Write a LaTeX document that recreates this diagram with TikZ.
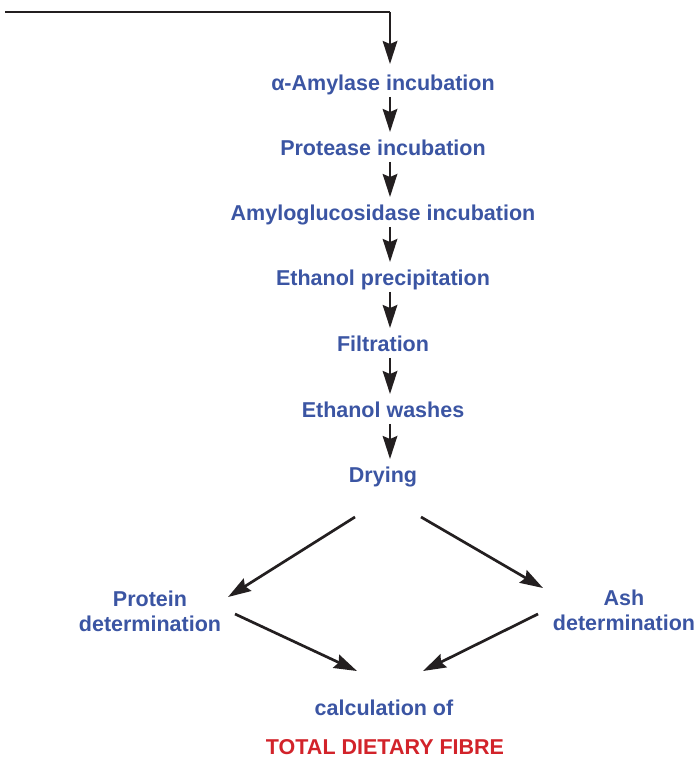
\documentclass[tikz,border=0pt]{standalone}
\usepackage{fontspec}
\setmainfont{Liberation Sans}
\usetikzlibrary{arrows.meta}

\definecolor{stageblue}{RGB}{59,85,163}
\definecolor{fibrered}{RGB}{210,35,42}
\definecolor{inkblack}{RGB}{35,31,32}

\tikzset{
  stage/.style={text=stageblue, font=\fontsize{21.5}{25}\selectfont\bfseries, inner sep=0pt, text height=15.5pt, text depth=0pt, align=center},
  flow/.style={draw=inkblack, line width=2.7pt, -{Stealth[length=23pt, width=14.5pt, inset=3pt]}},
}

\begin{document}
\begin{tikzpicture}[x=1pt, y=-1pt]
            \useasboundingbox (0,0) rectangle (698,759);

            \coordinate (feed) at (5,12);
            \coordinate (col) at (390,12);

            \node[stage] (amylase) at (383,83) {α-Amylase incubation};
            \node[stage] (protease) at (383,148) {Protease incubation};
            \node[stage] (amylo) at (383,213) {Amyloglucosidase incubation};
            \node[stage] (precip) at (383,278) {Ethanol precipitation};
            \node[stage] (filtration) at (383,344) {Filtration};
            \node[stage] (washes) at (383,410) {Ethanol washes};
            \node[stage] (drying) at (383,475) {Drying};

            \node[stage] (protein) at (150,624) {Protein\\determination};
            \node[stage] (ash) at (624,623) {Ash\\determination};

            \node[stage] (calc) at (384,708) {calculation of};
            \node[stage, text=fibrered] (tdf) at (385,747) {TOTAL DIETARY FIBRE};

            % main chain
            \draw[draw=inkblack, line width=2.7pt] (feed) -- (col);
            \draw[flow, shorten >=11pt] (col) -- (amylase.north -| col);
            \draw[flow, shorten <=6pt, shorten >=8pt] (amylase.south -| col) -- (protease.north -| col);
            \draw[flow, shorten <=6pt, shorten >=8pt] (protease.south -| col) -- (amylo.north -| col);
            \draw[flow, shorten <=6pt, shorten >=8pt] (amylo.south -| col) -- (precip.north -| col);
            \draw[flow, shorten <=6pt, shorten >=8pt] (precip.south -| col) -- (filtration.north -| col);
            \draw[flow, shorten <=6pt, shorten >=8pt] (filtration.south -| col) -- (washes.north -| col);
            \draw[flow, shorten <=6pt, shorten >=8pt] (washes.south -| col) -- (drying.north -| col);

            % split and join
            \coordinate (splitL) at (355,517);
            \coordinate (splitR) at (421,517);
            \coordinate (intoProtein) at (228,597);
            \coordinate (intoAsh) at (543,588);
            \coordinate (fromProtein) at (235,614);
            \coordinate (fromAsh) at (538,614);
            \coordinate (joinL) at (357,671);
            \coordinate (joinR) at (423,671);

            \draw[flow] (splitL) -- (intoProtein);
            \draw[flow] (splitR) -- (intoAsh);
            \draw[flow] (fromProtein) -- (joinL);
            \draw[flow] (fromAsh) -- (joinR);

\end{tikzpicture}
\end{document}
